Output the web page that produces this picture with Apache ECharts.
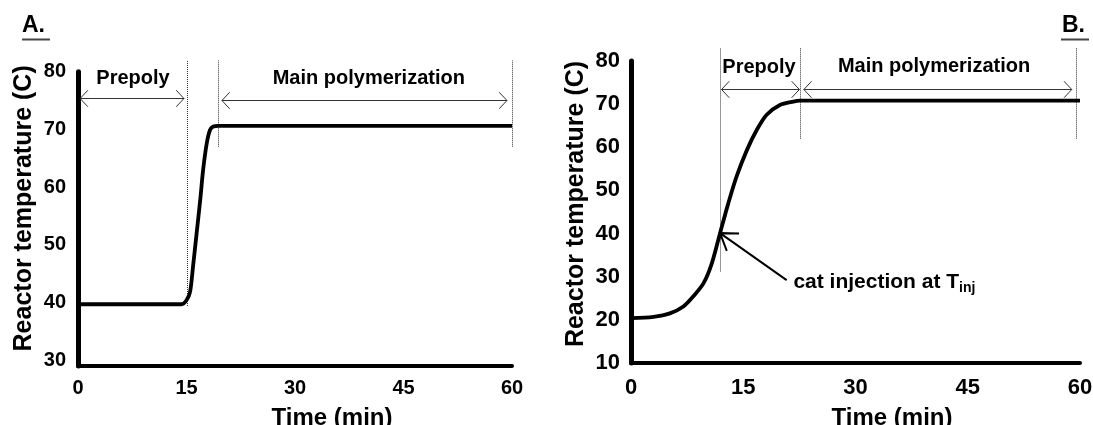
<!DOCTYPE html>
<html>
<head>
<meta charset="utf-8">
<script src="https://cdn.jsdelivr.net/npm/echarts@6/dist/echarts.min.js"></script>
<style>
  html, body { margin: 0; padding: 0; background: #fff; }
  #chart { width: 1093px; height: 425px; }
</style>
</head>
<body>
<div id="chart"></div>
<script>
// Tick values
const xTicks = [0, 15, 30, 45, 60];
const yTicksA = [30, 40, 50, 60, 70, 80];
const yTicksB = [10, 20, 30, 40, 50, 60, 70, 80];

// Panel A: reactor temperature profile, catalyst at 40 C then ramp to 70 C
const timeA = [0, 14.3, 15.0, 15.5, 15.9, 16.4, 16.9, 17.3, 17.8, 18.25, 18.7, 19.4, 60];
const tempA = [39.7, 39.7, 40.4, 41.9, 46.2, 52.0, 57.8, 63.0, 67.6, 69.9, 70.5, 70.6, 70.6];

// Panel B: continuous heating from 20 C, catalyst injected on the way up
const timeB = [0, 3.0, 5.2, 7.0, 8.3, 9.7, 10.8, 11.9, 13.0, 14.1, 15.5, 16.8, 18.1, 19.9, 21.7, 22.6, 60];
const tempB = [20.4, 20.7, 21.5, 23.1, 25.4, 28.5, 33.1, 40.1, 47.0, 53.2, 59.4, 64.0, 67.5, 69.8, 70.6, 70.8, 70.8];

// Phase boundaries: [time, bottom temp, top temp]
const phaseLinesA = [[15, 39.4, 82], [19.4, 67, 82], [60, 67, 82]];
const phaseLinesB = [[11.9, 31.2, 83], [22.6, 62, 83], [59.4, 62, 83]];

// Phase spans: [start time, end time, temp level]
const spansA = [[0.3, 14.65, 75.4], [19.9, 59.3, 75.1]];
const spansB = [[12.1, 22.5, 73.5], [23.1, 58.9, 73.5]];

// Phase names: [text, time, temp]
const labelsA = [['Prepoly', 7.6, 78.9], ['Main polymerization', 40.2, 78.9]];
const labelsB = [['Prepoly', 17.1, 78.4], ['Main polymerization', 40.5, 78.7]];

// Catalyst injection pointer: [tail time, tail temp, tip time, tip temp]
const injectionB = [[20.8, 29.2, 11.9, 40.1]];
const injectionLabelB = [[21.7, 28.8]];

const FONT = '"Liberation Sans", Arial, sans-serif';
const zip = (a, b) => a.map((v, i) => [v, b[i]]);

function phaseLineItem(params, api) {
  const p1 = api.coord([api.value(0), api.value(1)]);
  const p2 = api.coord([api.value(0), api.value(2)]);
  const x = Math.round(p1[0]) + 0.5; // keep the dotted rule on a single pixel column
  return {
    type: 'line',
    shape: { x1: x, y1: p1[1], x2: x, y2: p2[1] },
    style: { stroke: '#333', lineWidth: 1, lineDash: [1, 1] }
  };
}

function spanItem(params, api) {
  const a = api.coord([api.value(0), api.value(2)]);
  const b = api.coord([api.value(1), api.value(2)]);
  const y = Math.round(a[1]) + 0.5;
  const L = 11.3, ang = 47 * Math.PI / 180;
  const hx = L * Math.cos(ang), hy = L * Math.sin(ang);
  const st = { stroke: '#333', lineWidth: 1, fill: null };
  return {
    type: 'group',
    children: [
      { type: 'line', shape: { x1: a[0], y1: y, x2: b[0], y2: y }, style: st },
      { type: 'polyline', shape: { points: [[a[0] + hx, y - hy], [a[0], y], [a[0] + hx, y + hy]] }, style: st },
      { type: 'polyline', shape: { points: [[b[0] - hx, y - hy], [b[0], y], [b[0] - hx, y + hy]] }, style: st }
    ]
  };
}

function pointerItem(params, api) {
  const tail = api.coord([api.value(0), api.value(1)]);
  const tip = api.coord([api.value(2), api.value(3)]);
  const dx = tail[0] - tip[0], dy = tail[1] - tip[1];
  const len = Math.hypot(dx, dy);
  const ux = dx / len, uy = dy / len;
  const L = 19, ang = 34 * Math.PI / 180;
  const rot = (s) => [tip[0] + L * (ux * Math.cos(s * ang) - uy * Math.sin(s * ang)),
                      tip[1] + L * (ux * Math.sin(s * ang) + uy * Math.cos(s * ang))];
  const st = { stroke: '#000', lineWidth: 2, fill: null };
  return {
    type: 'group',
    children: [
      { type: 'line', shape: { x1: tail[0], y1: tail[1], x2: tip[0], y2: tip[1] }, style: st },
      { type: 'polyline', shape: { points: [rot(1), tip, rot(-1)] }, style: st }
    ]
  };
}

function labelItem(params, api) {
  const p = api.coord([api.value(1), api.value(2)]);
  return {
    type: 'text', x: p[0], y: p[1],
    style: {
      text: api.value(0), fill: '#000', font: 'bold 20px ' + FONT,
      align: 'center', verticalAlign: 'middle'
    }
  };
}

function injectionLabelItem(params, api) {
  const p = api.coord([api.value(0), api.value(1)]);
  return {
    type: 'text', x: p[0], y: p[1],
    style: {
      text: '{n|cat injection at T}{s|inj}',
      align: 'left', verticalAlign: 'middle',
      rich: {
        n: { fontFamily: FONT, fontWeight: 'bold', fontSize: 21, fill: '#000', color: '#000' },
        s: { fontFamily: FONT, fontWeight: 'bold', fontSize: 14, fill: '#000', color: '#000', padding: [12, 0, 0, 0] }
      }
    }
  };
}

const axisLineStyle = (w) => ({ show: true, onZero: false, lineStyle: { color: '#000', width: w } });
const tickLabel = (size, margin) => ({ color: '#000', fontFamily: FONT, fontWeight: 'bold', fontSize: size, margin: margin });
const titleStyle = (size, padding) => ({ color: '#000', fontFamily: FONT, fontWeight: 'bold', fontSize: size, padding: padding });

const option = {
  animation: false,
  backgroundColor: '#fff',
  grid: [
    { left: 78, top: 71.7, width: 434, height: 294.3, outerBoundsMode: 'none', containLabel: false },
    { left: 631, top: 61, width: 449, height: 302, outerBoundsMode: 'none', containLabel: false }
  ],
  xAxis: [
    {
      gridIndex: 0, type: 'value', min: 0, max: 60, interval: 15,
      name: 'Time (min)', nameLocation: 'middle', nameGap: 40,
      nameTextStyle: titleStyle(24, [0, 0, 0, 74]),
      axisLine: axisLineStyle(4), axisTick: { show: false }, splitLine: { show: false },
      axisLabel: Object.assign(tickLabel(20, 12), { customValues: xTicks })
    },
    {
      gridIndex: 1, type: 'value', min: 0, max: 60, interval: 15,
      name: 'Time (min)', nameLocation: 'middle', nameGap: 43,
      nameTextStyle: titleStyle(24, [0, 0, 0, 73]),
      axisLine: axisLineStyle(4), axisTick: { show: false }, splitLine: { show: false },
      axisLabel: Object.assign(tickLabel(22, 14), { customValues: xTicks })
    }
  ],
  yAxis: [
    {
      gridIndex: 0, type: 'value', min: 29, max: 80,
      name: 'Reactor temperature (C)', nameLocation: 'middle', nameGap: 41,
      nameTextStyle: titleStyle(25, [0, 0, 0, 21]),
      axisLine: axisLineStyle(5), axisTick: { show: false, customValues: yTicksA }, splitLine: { show: false },
      axisLabel: Object.assign(tickLabel(20, 12), { customValues: yTicksA })
    },
    {
      gridIndex: 1, type: 'value', min: 10, max: 80, interval: 10,
      name: 'Reactor temperature (C)', nameLocation: 'middle', nameGap: 42,
      nameTextStyle: titleStyle(25, [0, 0, 0, 16]),
      axisLine: axisLineStyle(5), axisTick: { show: false }, splitLine: { show: false },
      axisLabel: Object.assign(tickLabel(22, 11), { customValues: yTicksB })
    }
  ],
  graphic: [
    { type: 'text', left: 22, top: 14, style: { text: 'A.', fill: '#000', font: 'bold 23px ' + FONT } },
    { type: 'line', shape: { x1: 22, y1: 39.5, x2: 50, y2: 39.5 }, style: { stroke: '#444', lineWidth: 2 } },
    { type: 'text', left: 1062, top: 14, style: { text: 'B.', fill: '#000', font: 'bold 23px ' + FONT } },
    { type: 'line', shape: { x1: 1061, y1: 39.5, x2: 1089, y2: 39.5 }, style: { stroke: '#444', lineWidth: 2 } }
  ],
  series: [
    {
      name: 'Panel A', type: 'line', xAxisIndex: 0, yAxisIndex: 0,
      data: zip(timeA, tempA), showSymbol: false, symbol: 'none',
      smooth: 0.3,
      lineStyle: { color: '#000', width: 3.8 }, z: 5
    },
    {
      name: 'Panel B', type: 'line', xAxisIndex: 1, yAxisIndex: 1,
      data: zip(timeB, tempB), showSymbol: false, symbol: 'none',
      smooth: 0.3,
      lineStyle: { color: '#000', width: 3.8 }, z: 5
    },
    { type: 'custom', xAxisIndex: 0, yAxisIndex: 0, renderItem: phaseLineItem, data: phaseLinesA, encode: { x: 0, y: [1, 2] }, z: 2 },
    { type: 'custom', xAxisIndex: 1, yAxisIndex: 1, renderItem: phaseLineItem, data: phaseLinesB, encode: { x: 0, y: [1, 2] }, z: 2 },
    { type: 'custom', xAxisIndex: 0, yAxisIndex: 0, renderItem: spanItem, data: spansA, encode: { x: [0, 1], y: 2 }, z: 3 },
    { type: 'custom', xAxisIndex: 1, yAxisIndex: 1, renderItem: spanItem, data: spansB, encode: { x: [0, 1], y: 2 }, z: 3 },
    { type: 'custom', xAxisIndex: 0, yAxisIndex: 0, renderItem: labelItem, data: labelsA, encode: { x: 1, y: 2 }, z: 4 },
    { type: 'custom', xAxisIndex: 1, yAxisIndex: 1, renderItem: labelItem, data: labelsB, encode: { x: 1, y: 2 }, z: 4 },
    { type: 'custom', xAxisIndex: 1, yAxisIndex: 1, renderItem: pointerItem, data: injectionB, encode: { x: [0, 2], y: [1, 3] }, z: 4 },
    { type: 'custom', xAxisIndex: 1, yAxisIndex: 1, renderItem: injectionLabelItem, data: injectionLabelB, encode: { x: 0, y: 1 }, z: 4 }
  ]
};

const chart = echarts.init(document.getElementById('chart'), null, { renderer: 'canvas' });
chart.setOption(option);
</script>
</body>
</html>
